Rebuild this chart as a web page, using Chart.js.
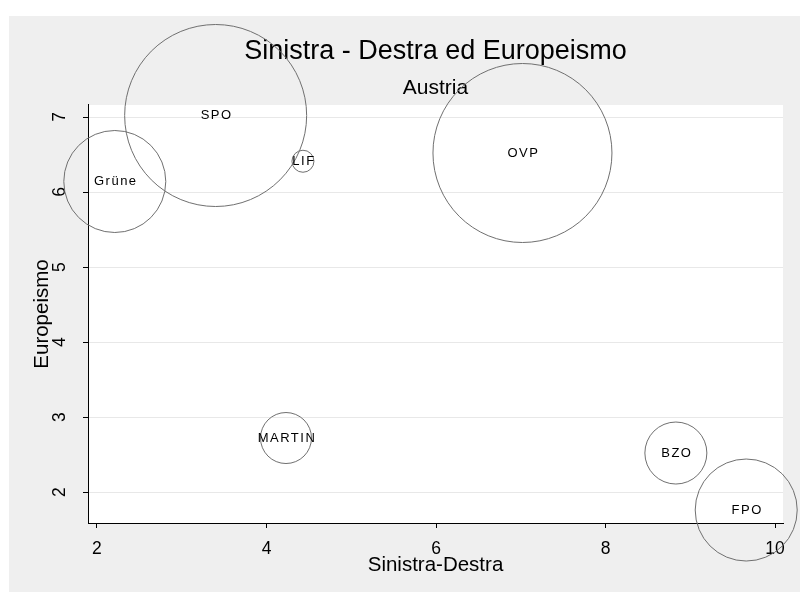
<!DOCTYPE html>
<html>
<head>
<meta charset="utf-8">
<script src="https://cdn.jsdelivr.net/npm/chart.js@4"></script>
<style>
  html, body { margin: 0; padding: 0; background: #fff; }
  #wrap { width: 800px; height: 592px; }
</style>
</head>
<body>
<div id="wrap"><canvas id="c" width="800" height="592"></canvas></div>
<script>
// party positions (Sinistra-Destra / Europeismo) and bubble radius
var parties = ['SPO', 'Grüne', 'LIF', 'OVP', 'MARTIN', 'BZO', 'FPO'];
var sinistraDestra = [3.40, 2.21, 4.43, 7.02, 4.23, 8.83, 9.66];
var europeismo = [7.02, 6.14, 6.41, 6.52, 2.72, 2.52, 1.76];
var bubbleSize = [91, 51, 11, 89.5, 25.5, 31, 51];
var xTicks = [2, 4, 6, 8, 10];
var yTicks = [2, 3, 4, 5, 6, 7];

var FONT = '"Liberation Sans", Arial, sans-serif';

var points = parties.map(function (p, i) {
  return { x: sinistraDestra[i], y: europeismo[i], r: bubbleSize[i] };
});

var background = {
  id: 'background',
  beforeDraw: function (chart) {
    var ctx = chart.ctx, a = chart.chartArea;
    ctx.save();
    ctx.fillStyle = '#fff';
    ctx.fillRect(0, 0, chart.width, chart.height);
    ctx.fillStyle = '#efefef';
    ctx.fillRect(9, 16, chart.width - 9, chart.height - 16);
    ctx.fillStyle = '#fff';
    ctx.fillRect(a.left, a.top, a.right - a.left, a.bottom - a.top);
    ctx.restore();
  }
};

var bubbleLabels = {
  id: 'bubbleLabels',
  afterDatasetsDraw: function (chart) {
    var ctx = chart.ctx;
    var meta = chart.getDatasetMeta(0);
    ctx.save();
    ctx.font = '13px ' + FONT;
    ctx.letterSpacing = '1.5px';
    ctx.fillStyle = '#000';
    ctx.textAlign = 'center';
    ctx.textBaseline = 'middle';
    meta.data.forEach(function (pt, i) {
      ctx.fillText(parties[i], pt.x + 1, pt.y);
    });
    ctx.restore();
  }
};

new Chart(document.getElementById('c').getContext('2d'), {
  type: 'bubble',
  data: {
    datasets: [{
      data: points,
      backgroundColor: 'rgba(0,0,0,0)',
      borderColor: '#707070',
      borderWidth: 1,
      hoverRadius: 0,
      clip: false
    }]
  },
  options: {
    responsive: false,
    animation: false,
    devicePixelRatio: 1,
    events: [],
    layout: { autoPadding: false, padding: { top: 0, left: 0, right: 17, bottom: 0 } },
    plugins: {
      legend: { display: false },
      tooltip: { enabled: false },
      title: {
        display: true,
        text: 'Sinistra - Destra ed Europeismo',
        color: '#000',
        fullSize: false,
        font: { family: FONT, size: 27, weight: 'normal' },
        padding: { top: 35.8, bottom: 0 }
      },
      subtitle: {
        display: true,
        text: 'Austria',
        color: '#000',
        fullSize: false,
        font: { family: FONT, size: 21, weight: 'normal' },
        padding: { top: 7.2, bottom: 4.4 }
      }
    },
    scales: {
      x: {
        type: 'linear',
        min: 1.894,
        max: 10.094,
        afterFit: function (s) { s.height = 69; },
        afterBuildTicks: function (s) { s.ticks = xTicks.map(function (v) { return { value: v }; }); },
        border: { color: '#000', width: 1 },
        grid: { drawOnChartArea: false, drawTicks: true, tickLength: 5, tickColor: '#000' },
        ticks: { color: '#000', padding: 11, maxRotation: 0, font: { family: FONT, size: 17.5 } },
        title: {
          display: true,
          text: 'Sinistra-Destra',
          color: '#000',
          font: { family: FONT, size: 20.5 },
          padding: { top: 0, bottom: 14.7 }
        }
      },
      y: {
        type: 'linear',
        min: 1.587,
        max: 7.16,
        afterFit: function (s) { s.width = 88; },
        afterBuildTicks: function (s) { s.ticks = yTicks.map(function (v) { return { value: v }; }); },
        border: { color: '#000', width: 1 },
        grid: { color: '#e8e8e8', lineWidth: 1, drawTicks: true, tickLength: 5, tickColor: '#000' },
        ticks: { color: '#000', padding: 18, minRotation: 90, maxRotation: 90, crossAlign: 'center', font: { family: FONT, size: 17.5 } },
        title: {
          display: true,
          text: 'Europeismo',
          color: '#000',
          font: { family: FONT, size: 20.5 },
          padding: { top: 29.7, bottom: 0 }
        }
      }
    }
  },
  plugins: [background, bubbleLabels]
});
</script>
</body>
</html>
